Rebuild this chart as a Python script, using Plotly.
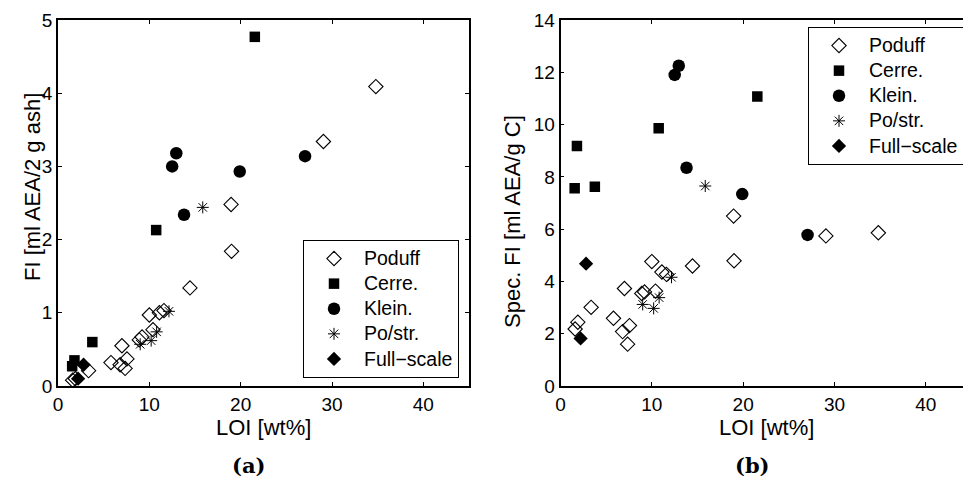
import plotly.graph_objects as go

# Sample data: loss on ignition (LOI, wt%), foam index (FI) and specific foam index
poduff_loi = [1.6, 1.9, 3.35, 5.8, 6.8, 7.0, 7.35, 7.55, 8.9, 9.2, 10.0, 10.4, 11.1, 11.6, 14.45, 19.0, 18.95, 29.06, 34.8]
poduff_fi = [0.08, 0.10, 0.21, 0.32, 0.29, 0.55, 0.24, 0.37, 0.63, 0.67, 0.97, 0.77, 1.00, 1.03, 1.34, 1.84, 2.48, 3.34, 4.09]
poduff_spec = [2.18, 2.44, 3.01, 2.59, 2.08, 3.73, 1.60, 2.31, 3.54, 3.60, 4.76, 3.63, 4.36, 4.27, 4.59, 4.79, 6.50, 5.74, 5.86]

cerre_loi = [1.55, 1.8, 3.76, 10.75, 21.55]
cerre_fi = [0.27, 0.35, 0.60, 2.13, 4.77]
cerre_spec = [7.56, 9.18, 7.62, 9.86, 11.07]

klein_loi = [12.5, 12.95, 13.8, 19.9, 27.05]
klein_fi = [3.00, 3.18, 2.34, 2.93, 3.14]
klein_spec = [11.90, 12.25, 8.35, 7.34, 5.78]

postr_loi = [9.0, 10.2, 10.8, 12.15, 15.85]
postr_fi = [0.57, 0.62, 0.74, 1.02, 2.44]
postr_spec = [3.12, 2.97, 3.38, 4.16, 7.65]

full_loi = [2.2, 2.8]
full_fi = [0.10, 0.29]
full_spec = [1.82, 4.68]

series_names = ["Poduff", "Cerre.", "Klein.", "Po/str.", "Full\u2212scale"]

W, H = 963, 477
FONT = "Liberation Sans, Arial, Helvetica, sans-serif"

styles = [
    dict(symbol="diamond-open", size=11, color="black", line=dict(color="black", width=1.1)),
    dict(symbol="square", size=10.5, color="black", line=dict(width=0)),
    dict(symbol="circle", size=12.5, color="black", line=dict(width=0)),
    dict(symbol="asterisk-open", size=10, color="black", line=dict(color="black", width=1)),
    dict(symbol="diamond", size=11, color="black", line=dict(width=0)),
]

series = [
    (poduff_loi, poduff_fi, poduff_spec),
    (cerre_loi, cerre_fi, cerre_spec),
    (klein_loi, klein_fi, klein_spec),
    (postr_loi, postr_fi, postr_spec),
    (full_loi, full_fi, full_spec),
]


def legend_label(name):
    # legend rows are spaced by the legend font; the entry text is set a bit larger
    return "<span style='font-size:19.5px'>%s</span>" % name


fig = go.Figure()

for name, st, (loi, fi, spec) in zip(series_names, styles, series):
    fig.add_trace(go.Scatter(x=loi, y=fi, mode="markers", name=legend_label(name), marker=st,
                             xaxis="x", yaxis="y", legend="legend"))
for name, st, (loi, fi, spec) in zip(series_names, styles, series):
    fig.add_trace(go.Scatter(x=loi, y=spec, mode="markers", name=legend_label(name), marker=st,
                             xaxis="x2", yaxis="y2", legend="legend2"))

# pixel geometry of the two panels
x0_a, x1_a = 58, 469
x0_b = 560.5
px_per_unit = (x1_a - x0_a) / 45.0
y_top, y_bot = 20, 386

axis_common = dict(
    showline=True, linecolor="black", linewidth=1.5,
    ticks="inside", ticklen=4, tickwidth=1, tickcolor="black",
    showgrid=False, zeroline=False,
    tickfont=dict(family=FONT, size=19, color="black"),
)

legend_common = dict(
    bordercolor="black", borderwidth=1, bgcolor="white",
    font=dict(family=FONT, size=17, color="black"), itemwidth=50,
    tracegroupgap=0,
)

fig.update_layout(
    width=W, height=H,
    margin=dict(l=0, r=0, t=0, b=0, autoexpand=False),
    paper_bgcolor="white", plot_bgcolor="white",
    xaxis=dict(domain=[x0_a / W, x1_a / W], range=[0, 45], tickvals=[0, 10, 20, 30, 40],
               mirror="ticks", anchor="y", **axis_common),
    yaxis=dict(domain=[1 - y_bot / H, 1 - y_top / H], range=[0, 5], tickvals=[0, 1, 2, 3, 4, 5],
               mirror="ticks", anchor="x", **axis_common),
    xaxis2=dict(domain=[x0_b / W, 1.0], range=[0, (W - x0_b) / px_per_unit],
                tickvals=[0, 10, 20, 30, 40], mirror="ticks", anchor="y2", **axis_common),
    yaxis2=dict(domain=[1 - y_bot / H, 1 - y_top / H], range=[0, 14],
                tickvals=[0, 2, 4, 6, 8, 10, 12, 14], mirror=False, anchor="x2", **axis_common),
    legend=dict(x=459 / W, xanchor="right", y=1 - 378 / H, yanchor="bottom", **legend_common),
    legend2=dict(x=808 / W, xanchor="left", y=1 - 27 / H, yanchor="top", **legend_common),
    showlegend=True,
)

title_font = dict(family=FONT, size=22, color="black")
caption_font = dict(family="DejaVu Serif, serif", size=21, color="black")
annots = [
    dict(text="LOI [wt%]", x=(x0_a + x1_a) / 2 / W, y=1 - 427 / H, font=title_font),
    dict(text="LOI [wt%]", x=(x0_b + x0_b + 45 * px_per_unit) / 2 / W, y=1 - 427 / H, font=title_font),
    dict(text="FI [ml AEA/2 g ash]", x=32 / W, y=1 - 187 / H, font=title_font, textangle=-90),
    dict(text="Spec. FI [ml AEA/g C]", x=512 / W, y=1 - 222 / H, font=title_font, textangle=-90),
    dict(text="<b>(a)</b>", x=249 / W, y=1 - 465 / H, font=caption_font),
    dict(text="<b>(b)</b>", x=752 / W, y=1 - 465 / H, font=caption_font),
]
for a in annots:
    fig.add_annotation(xref="paper", yref="paper", xanchor="center", yanchor="middle",
                       showarrow=False, **a)

fig.write_html("out.html")
